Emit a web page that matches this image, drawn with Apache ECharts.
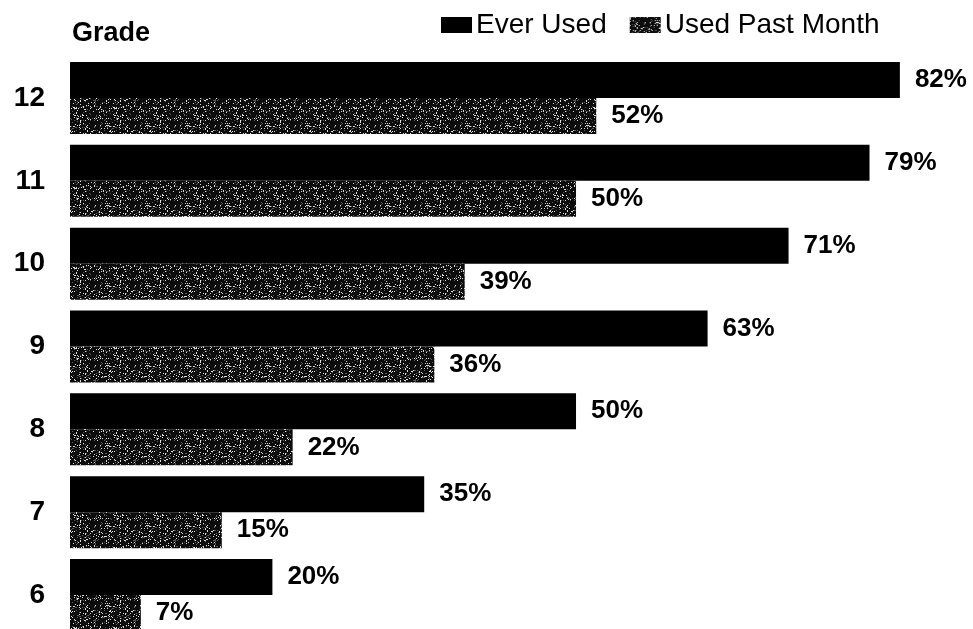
<!DOCTYPE html>
<html><head><meta charset="utf-8">
<script src="https://cdn.jsdelivr.net/npm/echarts@6/dist/echarts.min.js"></script>
<style>html,body{margin:0;padding:0;background:#fff}#c{width:973px;height:629px}</style>
</head><body><div id="c"></div>
<script>
const grades = ['6','7','8','9','10','11','12'];
const everUsed = [20, 35, 50, 63, 71, 79, 82];
const pastMonth = [7, 15, 22, 36, 39, 50, 52];
const seriesNames = ['Ever Used', 'Used Past Month'];

// speckled texture for "Used Past Month" (deterministic hash pattern)
function speckle(){
  const s = 40, cv = document.createElement('canvas');
  cv.width = s; cv.height = s;
  const ctx = cv.getContext('2d');
  ctx.fillStyle = '#0c0c0c'; ctx.fillRect(0,0,s,s);
  for (let y=0; y<s; y++) for (let x=0; x<s; x++) {
    const h = ((x*73856093) ^ (y*19349663) ^ ((x+y)*83492791)) >>> 0;
    const v = (h >>> 3) % 100;
    if (v < 9) { ctx.fillStyle = '#dcdcdc'; ctx.fillRect(x,y,1,1); }
    else if (v < 18) { ctx.fillStyle = '#5a5a5a'; ctx.fillRect(x,y,1,1); }
  }
  return cv;
}
const tex = speckle();

const chart = echarts.init(document.getElementById('c'));
const lbl = {show:true, position:'right', distance:15, formatter:'{c}%', color:'#000',
  fontFamily:'Liberation Sans, Arial', fontWeight:'bold', fontSize:26};
chart.setOption({
  animation:false,
  textStyle:{fontFamily:'Liberation Sans, Arial'},
  title:{text:'Grade', left:67, top:15, textStyle:{fontSize:27, fontWeight:'bold', color:'#000', fontFamily:'Liberation Sans, Arial'}},
  legend:{top:6, left:436, itemWidth:31, itemHeight:16, itemGap:23, icon:'rect',
    textStyle:{fontSize:28, color:'#000', padding:[0,0,0,-1]}, data:seriesNames},
  grid:{left:70, top:56.6, width:890.6, height:579.8, containLabel:false, outerBoundsMode:'none'},
  xAxis:{type:'value', min:0, max:88, show:false},
  yAxis:{type:'category', data:grades, axisLine:{show:false}, axisTick:{show:false},
    axisLabel:{fontSize:28, fontWeight:'bold', color:'#000', margin:25}},
  series:[
    {name:seriesNames[0], type:'bar', data:everUsed, barGap:'0%', barCategoryGap:'13%',
      itemStyle:{color:'#000'}, label:lbl},
    {name:seriesNames[1], type:'bar', data:pastMonth,
      itemStyle:{color:{image:tex, repeat:'repeat'}},
      label:lbl}
  ]
});
</script></body></html>
